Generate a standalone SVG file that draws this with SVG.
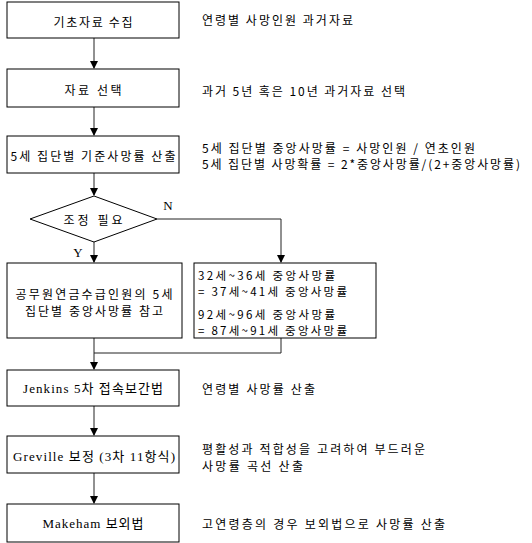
<svg xmlns="http://www.w3.org/2000/svg" width="532" height="543" viewBox="0 0 532 543">
<style>
.box{fill:#fff;stroke:#000;stroke-width:1}
.t{font-family:"Noto Sans CJK KR","Liberation Sans",sans-serif;font-size:12px;fill:#000;dominant-baseline:central}
.r{font-size:11.5px}
.s{font-family:"Liberation Serif","Noto Sans CJK KR",serif;font-size:13px;font-weight:normal;fill:#000;dominant-baseline:central}
.c{text-anchor:middle}
.ln{fill:none;stroke:#222;stroke-width:1}
</style>
<defs>
<marker id="ar" markerWidth="8" markerHeight="9" refX="7" refY="4" orient="auto" markerUnits="userSpaceOnUse">
<path d="M0,0 L8,4 L0,8 Z" fill="#000"/>
</marker>
</defs>
<rect width="532" height="543" fill="#fff"/>
<g id="connectors">
<path class="ln" d="M94,38 V68" marker-end="url(#ar)"/>
<path class="ln" d="M94,107 V135" marker-end="url(#ar)"/>
<path class="ln" d="M94,173 V195" marker-end="url(#ar)"/>
<path class="ln" d="M94,242 V262" marker-end="url(#ar)"/>
<path class="ln" d="M157,219 H281 V262" marker-end="url(#ar)"/>
<path class="ln" d="M94,338 V369" marker-end="url(#ar)"/>
<path class="ln" d="M281,338 V353 H94"/>
<path class="ln" d="M94,406 V435" marker-end="url(#ar)"/>
<path class="ln" d="M94,473 V503" marker-end="url(#ar)"/>
<text class="s" x="78" y="252" text-anchor="middle">Y</text>
<text class="s" x="168" y="205" text-anchor="middle">N</text>
</g>
<g id="n1">
<rect class="box" x="7" y="2" width="172" height="36"/>
<text class="t c" x="93" y="21" textLength="79">기초자료 수집</text>
</g>
<g id="n2">
<rect class="box" x="7" y="69" width="172" height="38"/>
<text class="t c" x="93" y="89" textLength="57">자료 선택</text>
</g>
<g id="n3">
<rect class="box" x="7" y="136" width="172" height="37"/>
<text class="t c" x="93" y="155" textLength="165">5세 집단별 기준사망률 산출</text>
</g>
<g id="n4">
<polygon class="box" points="94,196 157,219 94,242 30,219"/>
<text class="t c" x="93" y="219" textLength="59">조정 필요</text>
</g>
<g id="n5">
<rect class="box" x="7" y="263" width="175" height="75"/>
<text class="t c" x="94" y="293" textLength="157">공무원연금수급인원의 5세</text>
<text class="t c" x="94" y="310" textLength="138">집단별 중앙사망률 참고</text>
</g>
<g id="n6">
<rect class="box" x="194" y="263" width="182" height="75"/>
<text class="t r" x="198" y="275" textLength="137">32세~36세  중앙사망률</text>
<text class="t r" x="198" y="291" textLength="149">= 37세~41세  중앙사망률</text>
<text class="t r" x="198" y="314" textLength="137">92세~96세  중앙사망률</text>
<text class="t r" x="198" y="330" textLength="149">= 87세~91세  중앙사망률</text>
</g>
<g id="n7">
<rect class="box" x="7" y="370" width="172" height="36"/>
<text class="s c" x="93" y="388" textLength="140">Jenkins 5차 접속보간법</text>
</g>
<g id="n8">
<rect class="box" x="7" y="436" width="172" height="37"/>
<text class="s c" x="94" y="456" textLength="162">Greville 보정 (3차 11항식)</text>
</g>
<g id="n9">
<rect class="box" x="7" y="504" width="172" height="38"/>
<text class="s c" x="93" y="523" textLength="101">Makeham 보외법</text>
</g>
<g id="notes">
<text class="t" x="202" y="19" textLength="151">연령별 사망인원 과거자료</text>
<text class="t" x="202" y="90" textLength="203">과거 5년 혹은 10년 과거자료 선택</text>
<text class="t" x="202" y="147" textLength="273">5세 집단별 중앙사망률 = 사망인원 / 연초인원</text>
<text class="t" x="202" y="163" textLength="318">5세 집단별 사망확률 = 2*중앙사망률/(2+중앙사망률)</text>
<text class="t" x="202" y="388" textLength="113">연령별 사망률 산출</text>
<text class="t" x="202" y="448" textLength="223">평활성과 적합성을 고려하여 부드러운</text>
<text class="t" x="202" y="465" textLength="101">사망률 곡선 산출</text>
<text class="t" x="202" y="523" textLength="243">고연령층의 경우 보외법으로 사망률 산출</text>
</g>
</svg>
